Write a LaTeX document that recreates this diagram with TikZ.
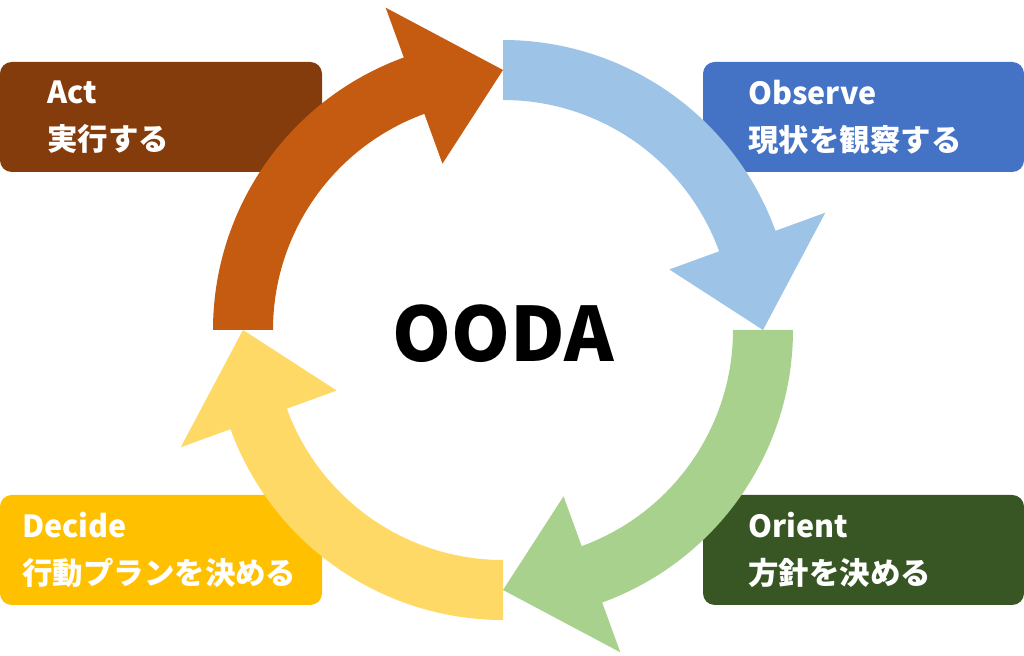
\documentclass[tikz,border=0pt]{standalone}
\usepackage{fontspec}
\setmainfont{Noto Sans CJK JP}
\begin{document}
\begin{tikzpicture}[x=0.03cm,y=0.03cm,
  box/.style={rounded corners=10pt},
  lbl/.style={anchor=west,align=left,text=white,font=\fontsize{26}{40}\selectfont\bfseries,inner sep=0pt}]
\useasboundingbox (0,0) rectangle (1024,656);
\definecolor{actc}{HTML}{843C0C}
\definecolor{obsc}{HTML}{4472C4}
\definecolor{oric}{HTML}{375623}
\definecolor{decc}{HTML}{FFC000}
\definecolor{aobs}{HTML}{9DC3E6}
\definecolor{aori}{HTML}{A9D18E}
\definecolor{adec}{HTML}{FFD966}
\definecolor{aact}{HTML}{C55A11}
\fill[box,actc] (0,484) rectangle (322,594);
\fill[box,obsc] (703,484) rectangle (1024,594);
\fill[box,oric] (703,51) rectangle (1024,161);
\fill[box,decc] (0,51) rectangle (322,161);
\node[lbl] (act) at (47,539) {Act\\実行する};
\node[lbl] (obs) at (748,539) {Observe\\現状を観察する};
\node[lbl] (ori) at (748,106) {Orient\\方針を決める};
\node[lbl] (dec) at (22,106) {Decide\\行動プランを決める};
\begin{scope}[shift={(503,326)}]
\foreach \a/\c in {90/aobs,0/aori,-90/adec,180/aact}{
  \pgfmathsetmacro{\b}{\a-70}
  \pgfmathsetmacro{\t}{\a-90}
  \fill[\c] (\a:290) arc[start angle=\a,end angle=\b,radius=290]
    -- (\b:343) -- (\t:260) -- (\b:177) -- (\b:230)
    arc[start angle=\b,end angle=\a,radius=230] -- cycle;
}
\end{scope}
\node[font=\fontsize{64}{70}\selectfont\bfseries] (ooda) at (503,322) {OODA};
\end{tikzpicture}
\end{document}
